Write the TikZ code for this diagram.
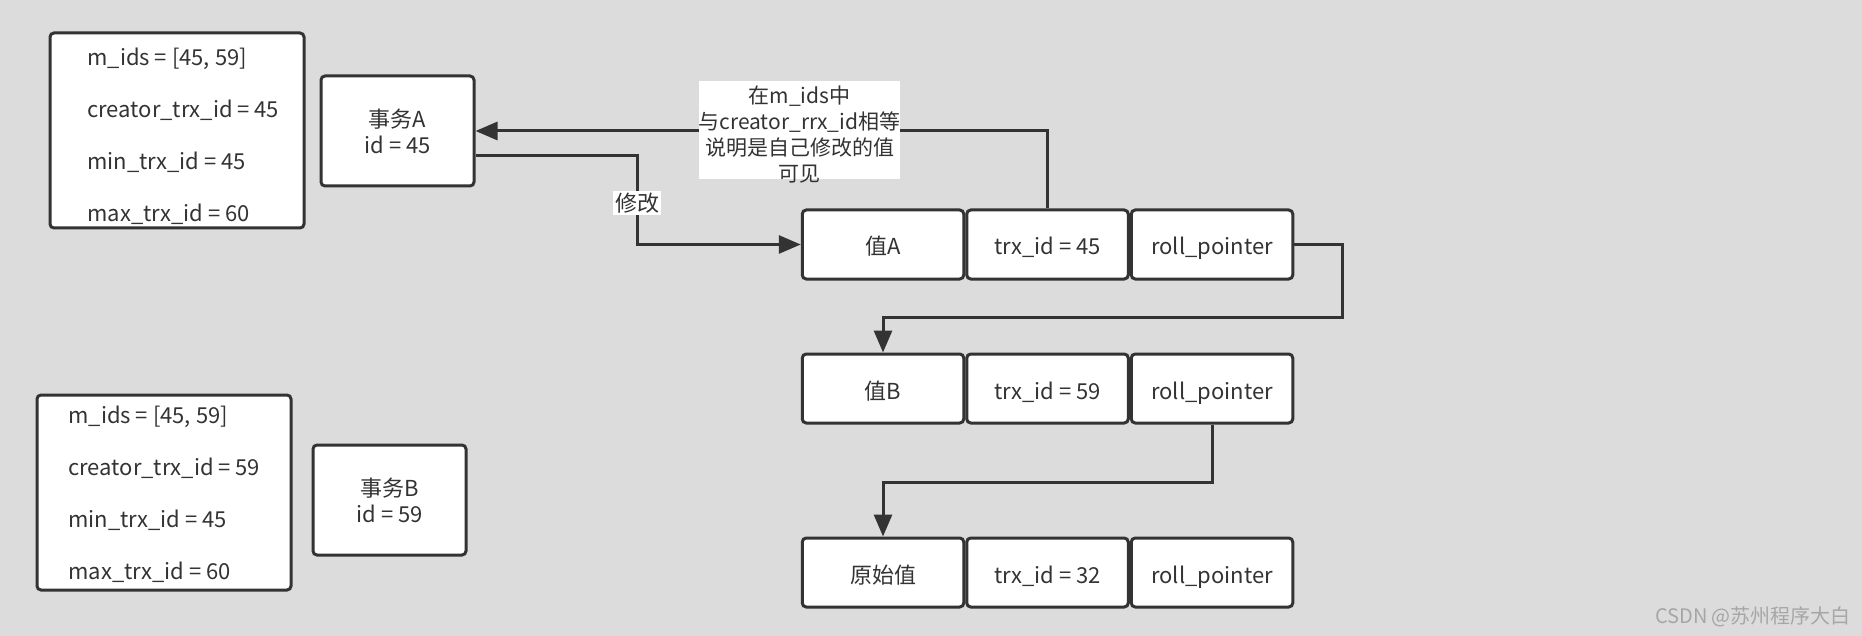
\documentclass[tikz,border=0pt]{standalone}
\usepackage{fontspec}
\setmainfont{Noto Sans CJK SC}
\usetikzlibrary{positioning,arrows.meta}

\definecolor{bggray}{RGB}{220,220,220}
\definecolor{ink}{RGB}{51,51,51}

\begin{document}
\begin{tikzpicture}
  [x=0.5pt,y=-0.5pt,
   every node/.style={text=ink,font=\fontsize{11}{13}\selectfont},
   box/.style={draw=ink,line width=1.5pt,rounded corners=2pt,fill=white},
   cell/.style={box,minimum width=80.75pt,minimum height=34.5pt,inner sep=0pt,text height=10.5pt,text depth=0pt},
   txbox/.style={box,minimum width=76.5pt,minimum height=55pt,align=center},
   view/.style={box,minimum width=127pt,minimum height=97.5pt},
   viewtxt/.style={align=left,anchor=west,inner sep=0pt,font=\fontsize{11}{26}\selectfont},
   flow/.style={draw=ink,line width=1.5pt,-{Triangle[length=11pt,width=9pt]}}]

  \fill[bggray] (0,0) rectangle (1862,636);

  % read views
  \node[view] (viewA) at (177,130.5) {};
  \node[viewtxt] (viewAtxt) at (87,136.5) {m\_ids = [45, 59]\\creator\_trx\_id = 45\\min\_trx\_id = 45\\max\_trx\_id = 60};
  \node[view] (viewB) at (164,492.5) {};
  \node[viewtxt] (viewBtxt) at (68,494.5) {m\_ids = [45, 59]\\creator\_trx\_id = 59\\min\_trx\_id = 45\\max\_trx\_id = 60};

  % transactions
  \node[txbox] (tA) at (397.5,131) {事务A\\id = 45};
  \node[txbox] (tB) at (389.5,500) {事务B\\id = 59};

  % version chain
  \node[cell] (va) at (883,244.5) {值A};
  \node[cell,right=0pt of va] (ta) {trx\_id = 45};
  \node[cell,right=0pt of ta] (ra) {roll\_pointer};

  \node[cell] (vb) at (883,388.5) {值B};
  \node[cell,right=0pt of vb] (tb) {trx\_id = 59};
  \node[cell,right=0pt of tb] (rb) {roll\_pointer};

  \node[cell] (vc) at (883,572.5) {原始值};
  \node[cell,right=0pt of vc] (tc) {trx\_id = 32};
  \node[cell,right=0pt of tc] (rc) {roll\_pointer};

  \draw[flow] (ta.north) |- (tA.east);
  \node[fill=white,inner sep=0pt,minimum width=100.5pt,minimum height=49pt] (note) at (799.5,130.5) {};
  \node[align=center,inner sep=0pt,font=\fontsize{10.5}{13}\selectfont] (notetxt) at (799.5,135)
    {在m\_ids中\\与creator\_rrx\_id相等\\说明是自己修改的值\\可见};

  \coordinate (k1) at (637,156);
  \draw[flow] (tA.east |- k1) -- (k1) |- (va.west);
  \node[fill=white,inner sep=1pt] (edit) at (637,203) {修改};

  \coordinate (k2) at (1342,317);
  \draw[flow] (ra.east) -| (k2) -| (vb.north);
  \draw[flow] (rb.south) -- ++(0,58) -| (vc.north);

  \node[text=gray!70,font=\fontsize{10}{12}\selectfont] (csdn) at (1753,617) {CSDN @苏州程序大白};
\end{tikzpicture}
\end{document}
